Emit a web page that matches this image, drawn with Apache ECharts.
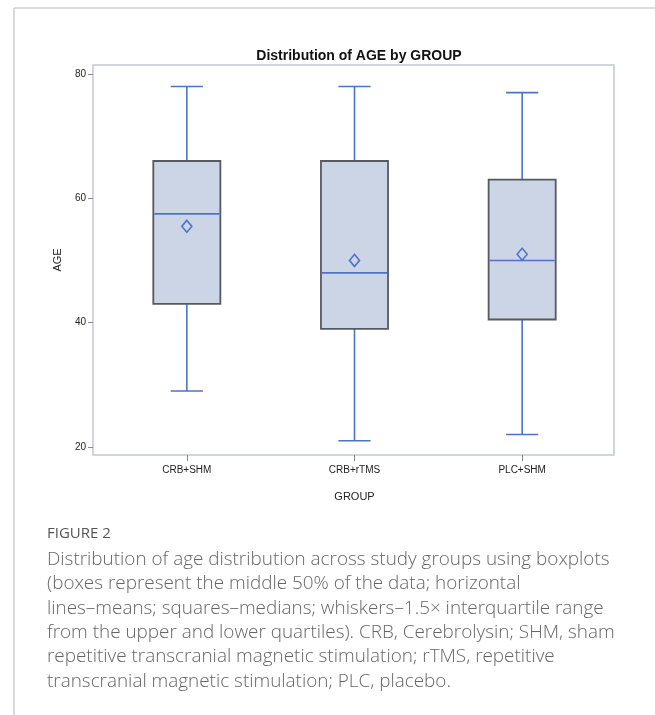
<!DOCTYPE html>
<html>
<head>
<meta charset="utf-8">
<script src="https://cdn.jsdelivr.net/npm/echarts@6/dist/echarts.min.js"></script>
<style>
html,body{margin:0;padding:0;background:#fff;}
#chart{width:655px;height:715px;}
</style>
</head>
<body>
<div id="chart"></div>
<script>
// ---- data ----
const categories = ['CRB+SHM', 'CRB+rTMS', 'PLC+SHM'];
const whiskerLow = [29, 21, 22];
const q1Values   = [43, 39, 40.5];
const medians    = [57.5, 48, 50];
const q3Values   = [66, 66, 63];
const whiskerHigh= [78, 78, 77];
const means      = [55.5, 50, 51];
const yTicks     = [20, 40, 60, 80];
const chartTitle = 'Distribution of AGE by GROUP';
const xName = 'GROUP';
const yName = 'AGE';
const figureLabel = 'FIGURE 2';
const captionLines = [
  'Distribution of age distribution across study groups using boxplots',
  '(boxes represent the middle 50% of the data; horizontal',
  'lines\u2013means; squares\u2013medians; whiskers\u20131.5\u00d7 interquartile range',
  'from the upper and lower quartiles). CRB, Cerebrolysin; SHM, sham',
  'repetitive transcranial magnetic stimulation; rTMS, repetitive',
  'transcranial magnetic stimulation; PLC, placebo.'
];

const yMin = 18.7, yMax = 81.45;
const boxData = categories.map((c, i) => [i, whiskerLow[i], q1Values[i], medians[i], q3Values[i], whiskerHigh[i]]);
const meanData = categories.map((c, i) => [i, means[i]]);

const LINE = '#4f72c4';
const BOXFILL = '#cbd5e6';
const BOXEDGE = '#555a60';
const FONT = '"Liberation Sans", Arial, sans-serif';

const chart = echarts.init(document.getElementById('chart'), null, {renderer: 'canvas'});

function renderBox(params, api) {
  const idx = api.value(0);
  const lo = api.coord([idx, api.value(1)]);
  const q1 = api.coord([idx, api.value(2)]);
  const md = api.coord([idx, api.value(3)]);
  const q3 = api.coord([idx, api.value(4)]);
  const hi = api.coord([idx, api.value(5)]);
  const band = api.size([1, 0])[0];
  const hw = band * 0.2;
  const cw = band * 0.096;
  const x = lo[0];
  const ls = {stroke: LINE, lineWidth: 1.6, fill: null};
  return {
    type: 'group',
    children: [
      {type: 'line', shape: {x1: x, y1: q3[1], x2: x, y2: hi[1]}, style: ls},
      {type: 'line', shape: {x1: x - cw, y1: hi[1], x2: x + cw, y2: hi[1]}, style: ls},
      {type: 'line', shape: {x1: x, y1: q1[1], x2: x, y2: lo[1]}, style: ls},
      {type: 'line', shape: {x1: x - cw, y1: lo[1], x2: x + cw, y2: lo[1]}, style: ls},
      {type: 'rect', shape: {x: x - hw, y: q3[1], width: hw * 2, height: q1[1] - q3[1]},
        style: {fill: BOXFILL, stroke: BOXEDGE, lineWidth: 1.8}},
      {type: 'line', shape: {x1: x - hw + 1, y1: md[1], x2: x + hw - 1, y2: md[1]}, style: ls}
    ]
  };
}

const option = {
  backgroundColor: '#fff',
  animation: false,
  title: {
    text: chartTitle,
    left: 354, top: 44, textAlign: 'center',
    textStyle: {fontFamily: FONT, fontSize: 14, fontWeight: 'bold', color: '#111'}
  },
  grid: [
    {left: 93, top: 65, width: 521, height: 390, show: true, borderColor: '#c4c9cf', borderWidth: 1.5, backgroundColor: '#fff'},
    {left: 103, top: 65, width: 503, height: 390}
  ],
  xAxis: [
    {gridIndex: 0, type: 'value', show: false, min: 0, max: 1},
    {gridIndex: 1, type: 'category', data: categories, boundaryGap: true,
      axisLine: {show: false},
      axisTick: {show: true, alignWithLabel: true, length: 6, lineStyle: {color: '#888'}},
      axisLabel: {fontFamily: FONT, fontSize: 10, color: '#222', margin: 10},
      name: xName, nameLocation: 'middle', nameGap: 36,
      nameTextStyle: {fontFamily: FONT, fontSize: 11, color: '#222'}
    }
  ],
  yAxis: [
    {gridIndex: 0, type: 'value', min: yMin, max: yMax,
      axisLine: {show: false},
      splitLine: {show: false},
      axisTick: {show: true, length: 5, customValues: yTicks, lineStyle: {color: '#888'}},
      axisLabel: {fontFamily: FONT, fontSize: 10, color: '#222', margin: 7, customValues: yTicks},
      name: yName, nameLocation: 'middle', nameGap: 30, nameRotate: 90,
      nameTextStyle: {fontFamily: FONT, fontSize: 11, color: '#222'}
    },
    {gridIndex: 1, type: 'value', min: yMin, max: yMax, show: false}
  ],
  series: [
    {type: 'custom', xAxisIndex: 1, yAxisIndex: 1, renderItem: renderBox, data: boxData,
      encode: {x: 0, y: [1, 2, 3, 4, 5]}, z: 3},
    {type: 'scatter', xAxisIndex: 1, yAxisIndex: 1, data: meanData,
      symbol: 'diamond', symbolSize: [10, 12],
      itemStyle: {color: BOXFILL, borderColor: LINE, borderWidth: 1.6, opacity: 1}, z: 4}
  ],
  graphic: [
    {type: 'line', shape: {x1: 14, y1: 8, x2: 655, y2: 8}, style: {stroke: '#cfcfcf', lineWidth: 1.5}},
    {type: 'line', shape: {x1: 14, y1: 8, x2: 14, y2: 715}, style: {stroke: '#cfcfcf', lineWidth: 1.5}},
    {type: 'text', left: 47, top: 526, style: {text: figureLabel, fontFamily: '"Open Sans", sans-serif', fontSize: 15, fontWeight: 500, fill: '#555'}}
  ].concat(captionLines.map((t, i) => ({
    type: 'text', left: 47, top: 550 + i * 24.4,
    style: {text: t, fontFamily: '"Open Sans", sans-serif', fontSize: 18.9, fontWeight: 300, fill: '#666'}
  })))
};
chart.setOption(option);
</script>
</body>
</html>
